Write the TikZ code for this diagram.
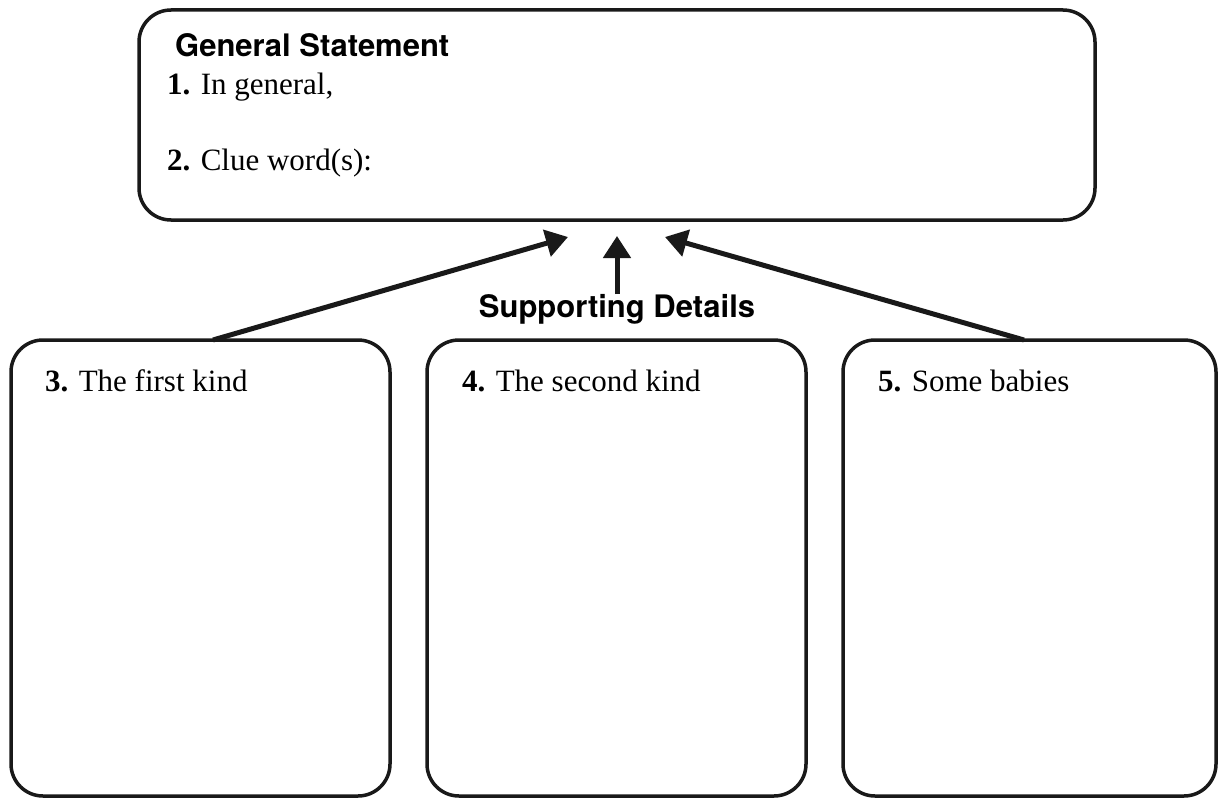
\documentclass[tikz,border=0pt]{standalone}
\usepackage{fontspec}
\setmainfont{Liberation Serif}
\newfontfamily\headfont{TeX Gyre Heros}
\usetikzlibrary{arrows.meta}
\begin{document}
\begin{tikzpicture}[x=1pt,y=-1pt,
  box/.style={draw=black!90, line width=3.5pt, rounded corners=32pt, rectangle, inner sep=0pt},
  lbl/.style={anchor=base west, inner sep=0pt, font=\fontsize{31}{36}\selectfont},
  head/.style={inner sep=0pt, font=\headfont\bfseries\fontsize{31}{36}\selectfont},
  arr/.style={line width=5pt, draw=black!90, -{Triangle[length=22pt,width=27pt]}}
]
\useasboundingbox (0,0) rectangle (1218,800);
\node[box, minimum width=956pt, minimum height=210pt] (top) at (617,115) {};
\node[box, minimum width=379pt, minimum height=456pt] (b1) at (200.5,568) {};
\node[box, minimum width=379pt, minimum height=456pt] (b2) at (616.5,568) {};
\node[box, minimum width=373pt, minimum height=456pt] (b3) at (1029.5,568) {};

\node[head, anchor=base west] (gs) at (175,57) {General Statement};
\node[lbl] (t1) at (167,95) {\textbf{1.} In general,};
\node[lbl] (t2) at (167,170) {\textbf{2.} Clue word(s):};
\node[lbl] (t3) at (45,391) {\textbf{3.} The first kind};
\node[lbl] (t4) at (462,391) {\textbf{4.} The second kind};
\node[lbl] (t5) at (878,391) {\textbf{5.} Some babies};
\node[head, anchor=base] (sd) at (617,317) {Supporting Details};

\coordinate (s1) at (213,340);
\coordinate (e1) at (568,237);
\coordinate (s2) at (617,294);
\coordinate (e2) at (617,236);
\coordinate (s3) at (1024,340);
\coordinate (e3) at (665,237);
\draw[arr] (s1) -- (e1);
\draw[arr] (s2) -- (e2);
\draw[arr] (s3) -- (e3);
\end{tikzpicture}
\end{document}
